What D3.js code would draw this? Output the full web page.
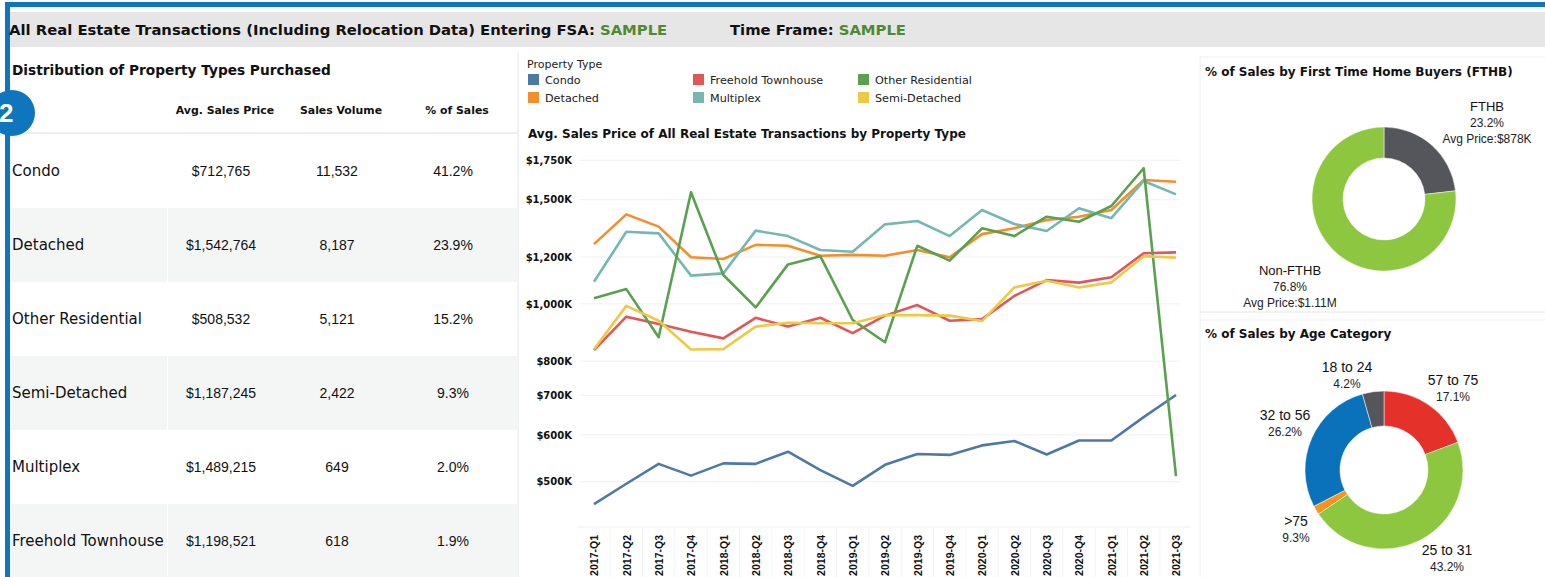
<!DOCTYPE html>
<html><head><meta charset="utf-8">
<script src="https://cdn.jsdelivr.net/npm/d3@7"></script>
<style>html,body{margin:0;padding:0;background:#fff;overflow:hidden}</style>
</head><body>
<svg id="c" width="1545" height="577"></svg>
<script>
// ---------- DATA ----------
const quarters = ["2017-Q1","2017-Q2","2017-Q3","2017-Q4","2018-Q1","2018-Q2","2018-Q3","2018-Q4","2019-Q1","2019-Q2","2019-Q3","2019-Q4","2020-Q1","2020-Q2","2020-Q3","2020-Q4","2021-Q1","2021-Q2","2021-Q3"];
const condo     = [458,496,536,512,537,536,562,523,492,534,557,555,576,586,556,587,587,643,701];
const detached  = [1262,1417,1351,1199,1191,1258,1254,1206,1210,1206,1233,1199,1312,1342,1386,1404,1441,1620,1609];
const freehold  = [835,951,924,897,874,947,915,947,892,955,995,936,942,1031,1097,1086,1109,1218,1222];
const multiplex = [1090,1324,1316,1116,1126,1330,1302,1233,1225,1363,1381,1302,1441,1365,1328,1451,1396,1614,1532];
const otherRes  = [1022,1059,878,1544,1119,986,1166,1204,939,861,1254,1183,1342,1302,1404,1377,1464,1696,511];
const semiDet   = [838,992,936,837,838,915,929,927,927,957,957,955,935,1066,1094,1066,1087,1204,1197];
const yTicks = [500,600,700,800,1000,1200,1500,1750];

const tableTypes  = ["Condo","Detached","Other Residential","Semi-Detached","Multiplex","Freehold Townhouse"];
const tablePrice  = ["$712,765","$1,542,764","$508,532","$1,187,245","$1,489,215","$1,198,521"];
const tableVolume = ["11,532","8,187","5,121","2,422","649","618"];
const tableShare  = ["41.2%","23.9%","15.2%","9.3%","2.0%","1.9%"];
const tableHeaders = ["Avg. Sales Price","Sales Volume","% of Sales"];

const fthbNames  = ["FTHB","Non-FTHB"];
const fthbShare  = [23.2,76.8];
const fthbPrice  = ["Avg Price:$878K","Avg Price:$1.11M"];

const ageNames  = ["57 to 75","25 to 31",">75","32 to 56","18 to 24"];
const ageSlice  = [19.3,46.3,1.8,28.2,4.4];   // slice sizes as drawn
const ageLabels = ["17.1%","43.2%","9.3%","26.2%","4.2%"]; // printed labels

// ---------- STYLE ----------
const W=1545,H=577;
const BLUE="#0f75bc";
const svg=d3.select("#c");
const bold="'DejaVu Sans', Verdana, sans-serif";
const sans="'Liberation Sans', Arial, sans-serif";

// frame
svg.append("rect").attr("x",10).attr("y",12).attr("width",W-10).attr("height",35).attr("fill","#e6e6e6");
svg.append("rect").attr("x",5).attr("y",2).attr("width",W-5).attr("height",5).attr("fill",BLUE);
svg.append("rect").attr("x",5).attr("y",2).attr("width",5).attr("height",H).attr("fill",BLUE);

// header
const h1=svg.append("text").attr("x",9).attr("y",35).attr("font-family",bold).attr("font-weight","bold").attr("font-size",14.8).attr("fill","#111");
h1.append("tspan").text("All Real Estate Transactions (Including Relocation Data) Entering FSA: ");
h1.append("tspan").attr("fill","#4f8a33").text("SAMPLE");
const h2=svg.append("text").attr("x",730).attr("y",35).attr("font-family",bold).attr("font-weight","bold").attr("font-size",14.8).attr("fill","#111");
h2.append("tspan").text("Time Frame: ");
h2.append("tspan").attr("fill","#4f8a33").text("SAMPLE");

// panel separators
svg.append("line").attr("x1",518).attr("x2",518).attr("y1",52).attr("y2",H).attr("stroke","#e4e4e4");
svg.append("line").attr("x1",1200).attr("x2",1200).attr("y1",57).attr("y2",H).attr("stroke","#eeeeee");
svg.append("line").attr("x1",1200).attr("x2",W).attr("y1",57).attr("y2",57).attr("stroke","#eeeeee");
svg.append("line").attr("x1",1200).attr("x2",W).attr("y1",312).attr("y2",312).attr("stroke","#e6e6e6");
svg.append("line").attr("x1",1200).attr("x2",W).attr("y1",320).attr("y2",320).attr("stroke","#f0f0f0");

// ---------- TABLE ----------
svg.append("text").attr("x",12).attr("y",75).attr("font-family",bold).attr("font-weight","bold").attr("font-size",13.7).attr("fill","#111").text("Distribution of Property Types Purchased");
const colX=[225,341,457];
tableHeaders.forEach((t,i)=>svg.append("text").attr("x",colX[i]).attr("y",114).attr("text-anchor","middle").attr("font-family",bold).attr("font-weight","bold").attr("font-size",10.9).attr("fill","#111").text(t));
svg.append("line").attr("x1",10).attr("x2",518).attr("y1",133).attr("y2",133).attr("stroke","#dddddd");
const rowY=d3.scaleBand().domain(tableTypes).range([134,578]);
tableTypes.forEach((t,i)=>{
  const y0=rowY(t), bh=rowY.bandwidth(), cy=y0+bh/2;
  if(i%2===1){
    svg.append("rect").attr("x",10).attr("y",y0).attr("width",157).attr("height",bh).attr("fill","#f4f6f5");
    svg.append("rect").attr("x",168).attr("y",y0).attr("width",350).attr("height",bh).attr("fill","#f4f6f5");
  }
  svg.append("text").attr("x",12).attr("y",cy+5).attr("font-family",bold).attr("font-size",15).attr("fill","#111").text(t);
  [tablePrice[i],tableVolume[i],tableShare[i]].forEach((v,j)=>
    svg.append("text").attr("x",colX[j]-4).attr("y",cy+5).attr("text-anchor","middle").attr("font-family",sans).attr("font-size",14).attr("fill","#111").text(v));
});

// badge
svg.append("circle").attr("cx",12).attr("cy",113).attr("r",23).attr("fill",BLUE);
svg.append("text").attr("x",-1).attr("y",122).attr("font-family",sans).attr("font-weight","bold").attr("font-size",26).attr("fill","#fff").text("2");

// ---------- LINE CHART ----------
const series=[
  {name:"Condo",color:"#4e79a7",values:condo},
  {name:"Detached",color:"#f28e2b",values:detached},
  {name:"Freehold Townhouse",color:"#e15759",values:freehold},
  {name:"Multiplex",color:"#76b7b2",values:multiplex},
  {name:"Other Residential",color:"#59a14f",values:otherRes},
  {name:"Semi-Detached",color:"#edc948",values:semiDet}
];
// legend
svg.append("text").attr("x",527).attr("y",68).attr("font-family",bold).attr("font-size",11).attr("fill","#222").text("Property Type");
const legOrder=["Condo","Detached","Freehold Townhouse","Multiplex","Other Residential","Semi-Detached"];
legOrder.forEach((n,i)=>{
  const s=series.find(d=>d.name===n);
  const lx=528+Math.floor(i/2)*165, ly=74+(i%2)*18;
  svg.append("rect").attr("x",lx).attr("y",ly).attr("width",11).attr("height",11).attr("fill",s.color);
  svg.append("text").attr("x",lx+17).attr("y",ly+10).attr("font-family",bold).attr("font-size",11.2).attr("fill","#222").text(n);
});
svg.append("text").attr("x",528).attr("y",138).attr("font-family",bold).attr("font-weight","bold").attr("font-size",12).attr("fill","#111").text("Avg. Sales Price of All Real Estate Transactions by Property Type");

const x=d3.scalePoint().domain(quarters).range([594,1176]);
const y=d3.scaleLog().domain([500,1750]).range([481.7,160.2]);

const grid=svg.append("g");
yTicks.forEach(t=>grid.append("line").attr("x1",580).attr("x2",1180).attr("y1",y(t)).attr("y2",y(t)).attr("stroke","#f0f0f0"));

const yAxis=svg.append("g").attr("transform","translate(578,0)")
  .call(d3.axisLeft(y).tickValues(yTicks).tickSize(0).tickPadding(6).tickFormat(d=>"$"+d3.format(",")(d)+"K"));
yAxis.select(".domain").remove();
yAxis.selectAll("text").attr("font-family",bold).attr("font-weight","bold").attr("font-size",10).attr("fill","#111");

// x axis
svg.append("line").attr("x1",578).attr("x2",1190).attr("y1",527).attr("y2",527).attr("stroke","#f0f0f0");
const xAxis=svg.append("g").attr("transform","translate(0,533)")
  .call(d3.axisBottom(x).tickSize(0).tickPadding(0));
xAxis.select(".domain").remove();
xAxis.selectAll("text").attr("font-family",sans).attr("font-weight","bold").attr("font-size",10.5).attr("fill","#111")
  .attr("transform","rotate(-90)").attr("text-anchor","end").attr("dy","0.35em").attr("dx","-2").attr("x",0).attr("y",0);
quarters.forEach((q,i)=>{ if(i>0){const xm=(x(quarters[i-1])+x(q))/2; svg.append("line").attr("x1",xm).attr("x2",xm).attr("y1",528).attr("y2",H).attr("stroke","#f3f3f3");}});

const line=d3.line().x((d,i)=>x(quarters[i])).y(d=>y(d));
series.forEach(s=>svg.append("path").attr("d",line(s.values)).attr("fill","none").attr("stroke",s.color).attr("stroke-width",2.6).attr("stroke-linejoin","round"));

// ---------- DONUTS ----------
svg.append("text").attr("x",1205).attr("y",76).attr("font-family",bold).attr("font-weight","bold").attr("font-size",12).attr("fill","#111").text("% of Sales by First Time Home Buyers (FTHB)");
const pie=d3.pie().sort(null).value(d=>d);
const g1=svg.append("g").attr("transform","translate(1384,199)");
const arc1=d3.arc().innerRadius(41).outerRadius(72);
const fthbColors=["#55565b","#8dc63f"];
g1.selectAll("path").data(pie(fthbShare)).join("path").attr("d",arc1).attr("fill",(d,i)=>fthbColors[i]).attr("stroke","#fff").attr("stroke-width",0.5);
const fthbPos=[[1487,111],[1290,275]];
fthbNames.forEach((n,i)=>{
  const [lx,ly]=fthbPos[i];
  svg.append("text").attr("x",lx).attr("y",ly).attr("text-anchor","middle").attr("font-family",sans).attr("font-size",13).attr("fill","#111").text(n);
  svg.append("text").attr("x",lx).attr("y",ly+16).attr("text-anchor","middle").attr("font-family",sans).attr("font-size",12).attr("fill","#222").text(fthbShare[i].toFixed(1)+"%");
  svg.append("text").attr("x",lx).attr("y",ly+32).attr("text-anchor","middle").attr("font-family",sans).attr("font-size",12).attr("fill","#222").text(fthbPrice[i]);
});

svg.append("text").attr("x",1205).attr("y",338).attr("font-family",bold).attr("font-weight","bold").attr("font-size",12).attr("fill","#111").text("% of Sales by Age Category");
const g2=svg.append("g").attr("transform","translate(1384,470)");
const arc2=d3.arc().innerRadius(44).outerRadius(79);
const ageColors=["#e4312a","#8dc63f","#f7941d","#0a72ba","#55565b"];
g2.selectAll("path").data(pie(ageSlice)).join("path").attr("d",arc2).attr("fill",(d,i)=>ageColors[i]).attr("stroke","#fff").attr("stroke-width",0.5);
const agePos=[[1453,385],[1447,555],[1296,526],[1285,420],[1347,372]];
ageNames.forEach((n,i)=>{
  const [lx,ly]=agePos[i];
  svg.append("text").attr("x",lx).attr("y",ly).attr("text-anchor","middle").attr("font-family",sans).attr("font-size",14).attr("fill","#111").text(n);
  svg.append("text").attr("x",lx).attr("y",ly+16).attr("text-anchor","middle").attr("font-family",sans).attr("font-size",12).attr("fill","#222").text(ageLabels[i]);
});
</script>
</body></html>
